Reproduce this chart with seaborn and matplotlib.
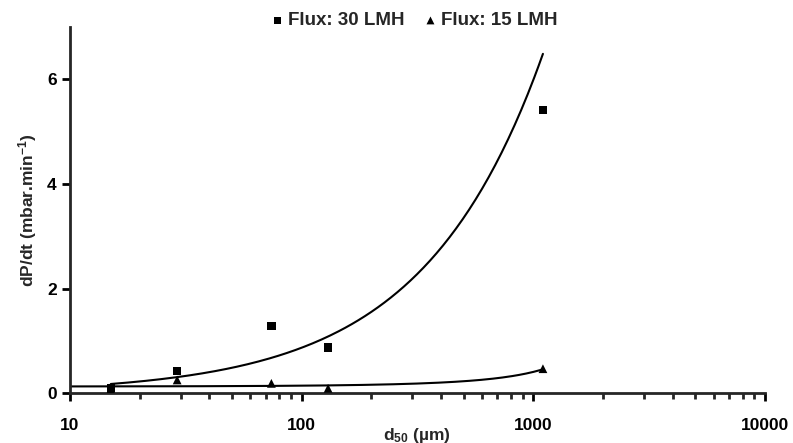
import numpy as np
import matplotlib
matplotlib.use("Agg")
import matplotlib.pyplot as plt
import seaborn as sns
from matplotlib.ticker import LogLocator, NullFormatter, FixedLocator

# data
d50_30 = [15, 29, 74, 130, 1100]
dpdt_30 = [0.1, 0.43, 1.29, 0.875, 5.41]
d50_15 = [15, 29, 74, 130, 1100]
dpdt_15 = [0.08, 0.255, 0.19, 0.095, 0.47]
label_30 = "Flux: 30 LMH"
label_15 = "Flux: 15 LMH"
y_ticks = [0, 2, 4, 6]
x_ticks = [10, 100, 1000, 10000]

sns.set_style("ticks")
plt.rcParams['font.family'] = ['Liberation Sans', 'DejaVu Sans']
plt.rcParams['font.weight'] = 'bold'
plt.rcParams['mathtext.fontset'] = 'custom'
plt.rcParams['mathtext.rm'] = 'Liberation Sans:bold'
plt.rcParams['mathtext.bf'] = 'Liberation Sans:bold'
plt.rcParams['mathtext.default'] = 'bf'

fig = plt.figure(figsize=(7.93, 4.43), dpi=100)
ax = fig.add_axes([0.0883, 0.1122, 0.8764, 0.8268])

# power trendline for 30 LMH (fit in log-log space), spans the data
lx, ly = np.log(d50_30), np.log(dpdt_30)
b30, a30 = np.polyfit(lx, ly, 1)
xf30 = np.logspace(np.log10(min(d50_30)), np.log10(max(d50_30)), 200)
yf30 = np.exp(a30) * xf30 ** b30

# exponential trendline for 15 LMH, extended back to the axis start
b15, a15 = np.polyfit(d50_15, np.log(dpdt_15), 1)
xf15 = np.logspace(1, np.log10(max(d50_15)), 200)
yf15 = np.exp(a15 + b15 * xf15)

sns.lineplot(x=xf30, y=yf30, ax=ax, color='black', lw=1.5, legend=False)
sns.lineplot(x=xf15, y=yf15, ax=ax, color='black', lw=1.5, legend=False)

sns.scatterplot(x=d50_15, y=dpdt_15, ax=ax, marker='^', s=40, color='black',
                edgecolor='none', label=label_15, zorder=3)
sns.scatterplot(x=d50_30, y=dpdt_30, ax=ax, marker='s', s=36, color='black',
                edgecolor='none', label=label_30, zorder=4)

ax.set_xscale('log')
ax.set_xlim(10, 10000)
ax.set_ylim(0, 7)
ax.xaxis.set_major_locator(FixedLocator(x_ticks))
ax.set_xticklabels([str(t) for t in x_ticks])
ax.xaxis.set_minor_locator(LogLocator(base=10, subs=np.arange(2, 10)))
ax.xaxis.set_minor_formatter(NullFormatter())
ax.set_yticks(y_ticks)
ax.set_yticklabels([str(t) for t in y_ticks])

for s in ['top', 'right']:
    ax.spines[s].set_visible(False)
for s in ['left', 'bottom']:
    ax.spines[s].set_linewidth(2)
ax.tick_params(axis='both', which='major', direction='out', length=6, width=2,
               labelsize=12.5, colors='black')
ax.tick_params(axis='x', which='major', pad=12)
ax.tick_params(axis='x', which='minor', direction='out', length=4, width=2)
for t in ax.get_xticklabels() + ax.get_yticklabels():
    t.set_fontweight('bold')

ax.set_xlabel(r'd$_{50}$ (µm)', fontsize=12.5, fontweight='bold')
ax.xaxis.set_label_coords(0.499, -0.088)
ax.set_ylabel(r'dP/dt (mbar.min$^{-1}$)', fontsize=12.5, fontweight='bold', labelpad=6)

h, l = ax.get_legend_handles_labels()
leg = ax.legend(h[::-1], l[::-1], loc='center', bbox_to_anchor=(0.493, 1.017), ncol=2,
                frameon=False, fontsize=13.5, markerscale=0.9, handletextpad=0.05,
                columnspacing=0.9, handlelength=1.0, borderaxespad=0)
for t in leg.get_texts():
    t.set_fontweight('bold')

fig.savefig('out.png', dpi=100)
